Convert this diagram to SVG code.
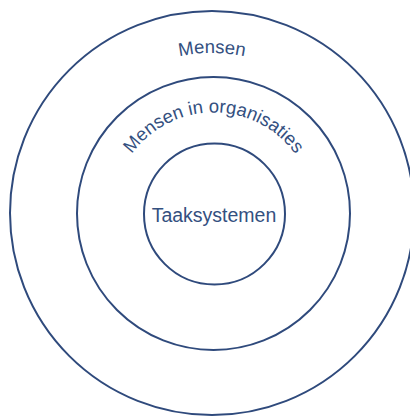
<svg xmlns="http://www.w3.org/2000/svg" xmlns:xlink="http://www.w3.org/1999/xlink" width="410" height="417" viewBox="0 0 410 417">
<style>
.ring{fill:none;stroke:#2f4a7c;stroke-width:2}
.lbl{font-family:"Liberation Sans",Arial,sans-serif;fill:#34507f}
</style>
<defs>
<path id="arcOuter" d="M 52,213 A 160 160 0 0 1 372,213"/>
<path id="arcMid" d="M 112.5,213.5 A 101 101 0 0 1 314.5,213.5"/>
</defs>
<rect width="410" height="417" fill="#ffffff"/>
<g id="mensen">
<circle class="ring" cx="212" cy="213" r="202"/>
<text class="lbl" font-size="18.5" text-anchor="middle"><textPath xlink:href="#arcOuter" href="#arcOuter" startOffset="50%">Mensen</textPath></text>
</g>
<g id="mensen-in-organisaties">
<circle class="ring" cx="213.5" cy="213.5" r="136.5"/>
<text class="lbl" font-size="18.5" text-anchor="middle"><textPath xlink:href="#arcMid" href="#arcMid" startOffset="50%">Mensen in organisaties</textPath></text>
</g>
<g id="taaksystemen">
<circle class="ring" cx="214.5" cy="214" r="70.5"/>
<text class="lbl" x="214" y="221.5" font-size="19.5" text-anchor="middle">Taaksystemen</text>
</g>
<g id="connectors"/>
</svg>
